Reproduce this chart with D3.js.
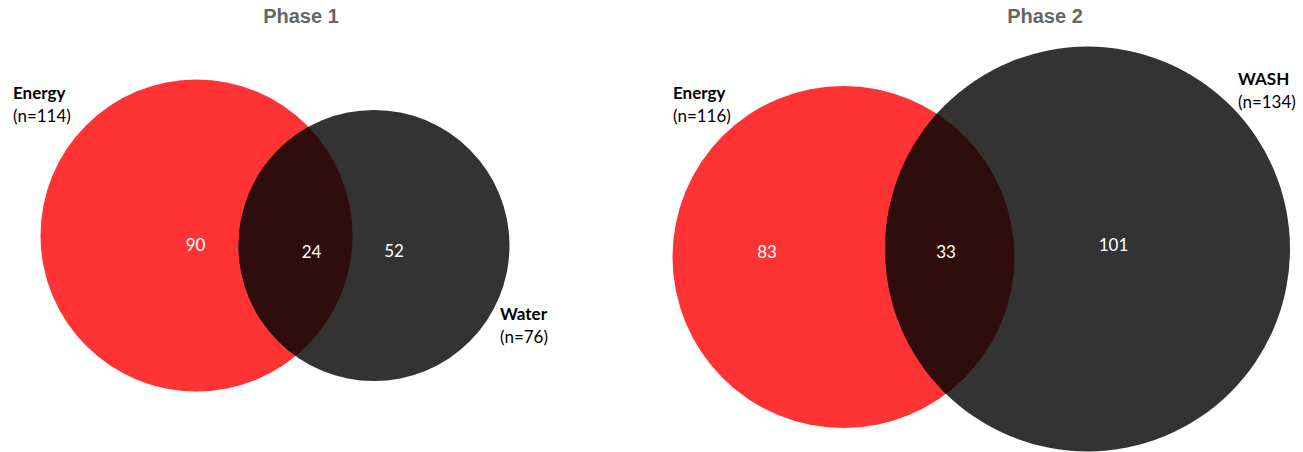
<!DOCTYPE html>
<html>
<head>
<meta charset="utf-8">
<script src="https://cdn.jsdelivr.net/npm/d3@7"></script>
<style>
  html, body { margin: 0; padding: 0; background: #ffffff; }
  svg { display: block; }
</style>
</head>
<body>
<svg id="chart" width="1303" height="452"></svg>
<script>
// Venn data for the two project phases
const phases = ["Phase 1", "Phase 2"];
const setA = ["Energy", "Energy"];
const setB = ["Water", "WASH"];
const totalA = [114, 116];
const totalB = [76, 134];
const onlyA = [90, 83];
const both = [24, 33];
const onlyB = [52, 101];

// Panel layout: circle geometry and label anchors
const layout = [
  {
    titleX: 301,
    a: { cx: 196.5, cy: 235.5, r: 156 },
    b: { cx: 374, cy: 245.5, r: 135.5 },
    numA: [195.5, 244], numAB: [311.5, 251], numB: [394, 250],
    labA: { x: 13, y: 99 }, labB: { x: 500, y: 320 }
  },
  {
    titleX: 1045,
    a: { cx: 843.5, cy: 257, r: 171 },
    b: { cx: 1087.5, cy: 249, r: 202.5 },
    numA: [767, 251], numAB: [946, 251], numB: [1113.5, 244],
    labA: { x: 673, y: 99 }, labB: { x: 1238, y: 85 }
  }
];

const colA = "#ff3333";
const colB = "#333333";
const colAB = "#2f0d0d";

const svg = d3.select("#chart");
const defs = svg.append("defs");

const panels = phases.map((p, i) => ({
  title: p, nameA: setA[i], nameB: setB[i],
  nA: totalA[i], nB: totalB[i],
  a: onlyA[i], ab: both[i], b: onlyB[i],
  geo: layout[i], i
}));

const g = svg.selectAll("g.panel").data(panels).join("g").attr("class", "panel");

// clip paths for the intersection
defs.selectAll("clipPath").data(panels).join("clipPath")
  .attr("id", d => "clipA" + d.i)
  .append("circle")
  .attr("cx", d => d.geo.a.cx).attr("cy", d => d.geo.a.cy).attr("r", d => d.geo.a.r);

g.append("circle")
  .attr("cx", d => d.geo.a.cx).attr("cy", d => d.geo.a.cy).attr("r", d => d.geo.a.r)
  .attr("fill", colA);

g.append("circle")
  .attr("cx", d => d.geo.b.cx).attr("cy", d => d.geo.b.cy).attr("r", d => d.geo.b.r)
  .attr("fill", colB);

g.append("circle")
  .attr("cx", d => d.geo.b.cx).attr("cy", d => d.geo.b.cy).attr("r", d => d.geo.b.r)
  .attr("clip-path", d => `url(#clipA${d.i})`)
  .attr("fill", colAB);

// titles
g.append("text")
  .attr("x", d => d.geo.titleX).attr("y", 23)
  .attr("text-anchor", "middle")
  .attr("font-family", "'Liberation Sans', Arial, sans-serif")
  .attr("font-weight", "bold")
  .attr("font-size", 20)
  .attr("fill", "#666666")
  .text(d => d.title);

// region counts
const numFont = "Lato, 'Open Sans', sans-serif";
const nums = d => [
  { v: d.a, p: d.geo.numA },
  { v: d.ab, p: d.geo.numAB },
  { v: d.b, p: d.geo.numB }
];
g.selectAll("text.num").data(nums).join("text")
  .attr("class", "num")
  .attr("x", d => d.p[0]).attr("y", d => d.p[1])
  .attr("text-anchor", "middle")
  .attr("dominant-baseline", "central")
  .attr("font-family", numFont)
  .attr("font-size", 17)
  .attr("fill", "#ffffff")
  .text(d => d.v);

// set labels
const setLabels = d => [
  { name: d.nameA, n: d.nA, pos: d.geo.labA },
  { name: d.nameB, n: d.nB, pos: d.geo.labB }
];
const lab = g.selectAll("g.lab").data(setLabels).join("g").attr("class", "lab");
lab.append("text")
  .attr("x", d => d.pos.x).attr("y", d => d.pos.y)
  .attr("font-family", numFont)
  .attr("font-weight", "bold")
  .attr("font-size", 17)
  .attr("fill", "#000000")
  .text(d => d.name);
lab.append("text")
  .attr("x", d => d.pos.x).attr("y", d => d.pos.y + 23)
  .attr("font-family", numFont)
  .attr("font-size", 17)
  .attr("fill", "#000000")
  .text(d => `(n=${d.n})`);
</script>
</body>
</html>
